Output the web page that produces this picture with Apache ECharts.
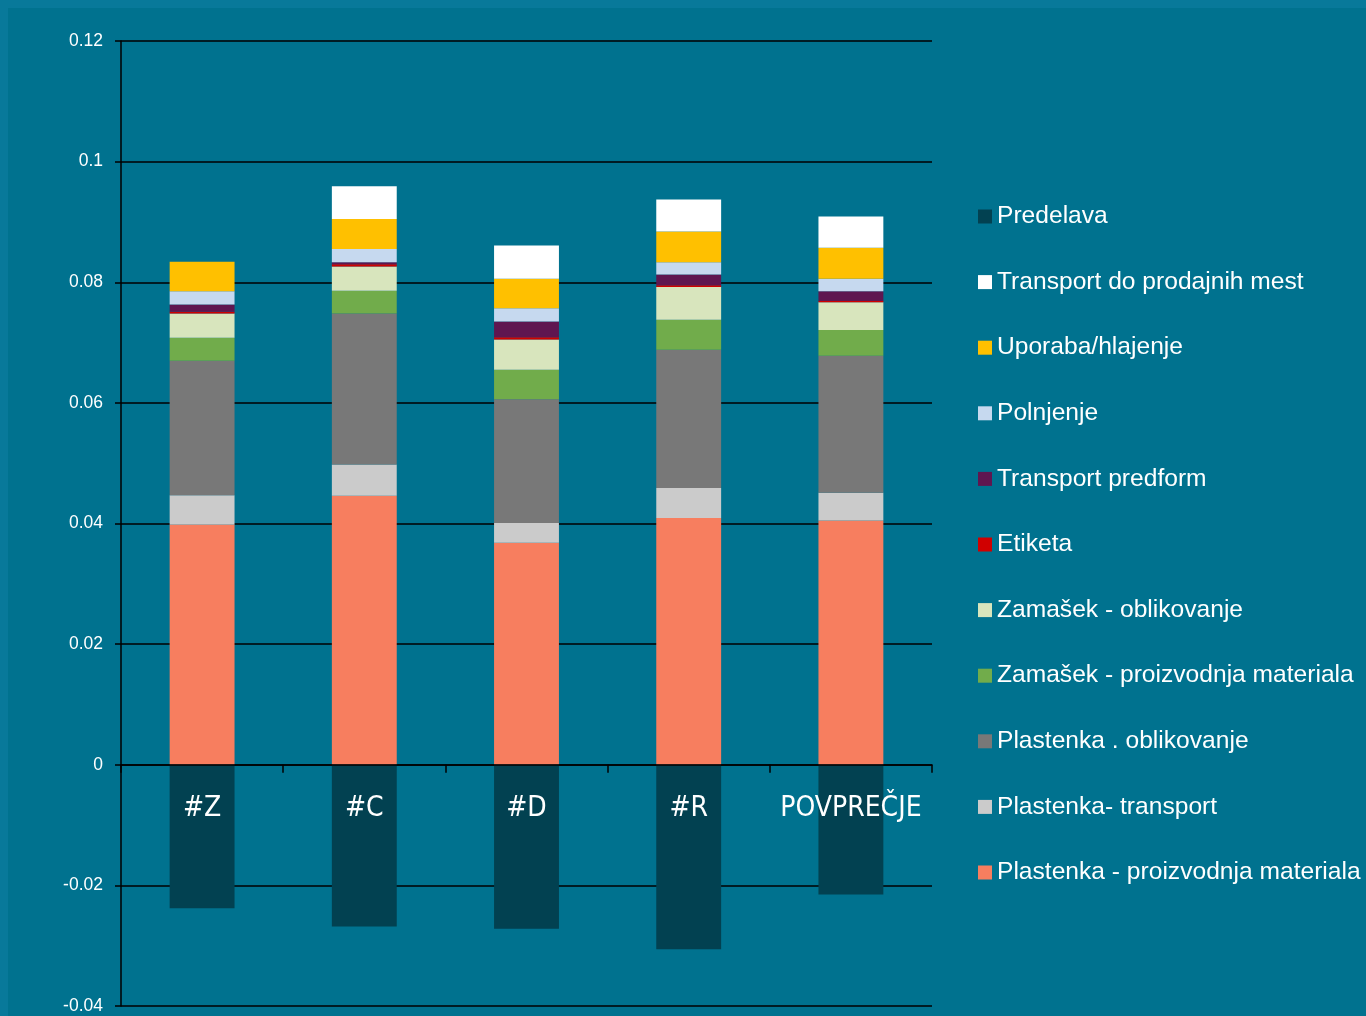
<!DOCTYPE html>
<html>
<head>
<meta charset="utf-8">
<script src="https://cdn.jsdelivr.net/npm/echarts@6/dist/echarts.min.js"></script>
<style>
html,body{margin:0;padding:0;background:#00728f;}
#chart{width:1366px;height:1016px;}
</style>
</head>
<body>
<div id="chart"></div>
<script>
const categories = ['#Z', '#C', '#D', '#R', 'POVPREČJE'];
const yTicks = [-0.04, -0.02, 0, 0.02, 0.04, 0.06, 0.08, 0.1, 0.12];

const plastenkaMaterial = [0.0398, 0.0446, 0.0368, 0.0409, 0.0405];
const plastenkaTransport = [0.0049, 0.0052, 0.0033, 0.0050, 0.0046];
const plastenkaOblikovanje = [0.0223, 0.0250, 0.0205, 0.0229, 0.0227];
const zamasekMaterial = [0.0038, 0.0038, 0.0049, 0.0050, 0.0043];
const zamasekOblikovanje = [0.0040, 0.0040, 0.0050, 0.0054, 0.0046];
const etiketa = [0.0003, 0.0004, 0.0004, 0.0003, 0.0002];
const transportPredform = [0.0012, 0.0003, 0.0026, 0.0018, 0.0016];
const polnjenje = [0.0022, 0.0022, 0.0022, 0.0020, 0.0021];
const uporaba = [0.0049, 0.0050, 0.0049, 0.0051, 0.0051];
const transportProdaja = [0, 0.0054, 0.0055, 0.0053, 0.0052];
const predelava = [-0.0238, -0.0268, -0.0272, -0.0306, -0.0215];

const seriesDefs = [
  ['Plastenka - proizvodnja materiala', plastenkaMaterial, '#f77e5f'],
  ['Plastenka- transport', plastenkaTransport, '#cbcbcb'],
  ['Plastenka . oblikovanje', plastenkaOblikovanje, '#787878'],
  ['Zamašek - proizvodnja materiala', zamasekMaterial, '#71ac4b'],
  ['Zamašek - oblikovanje', zamasekOblikovanje, '#d8e5bd'],
  ['Etiketa', etiketa, '#d00000'],
  ['Transport predform', transportPredform, '#5f1650'],
  ['Polnjenje', polnjenje, '#c6d9ef'],
  ['Uporaba/hlajenje', uporaba, '#ffc000'],
  ['Transport do prodajnih mest', transportProdaja, '#ffffff'],
  ['Predelava', predelava, '#024151']
];

const legendOrder = seriesDefs.map(d => d[0]).reverse();

const chart = echarts.init(document.getElementById('chart'), null, {renderer: 'canvas'});
chart.setOption({
  backgroundColor: '#00728f',
  animation: false,
  graphic: [
    {type: 'rect', shape: {x: 0, y: 0, width: 8, height: 1016}, style: {fill: '#08799a'}, z: -10},
    {type: 'rect', shape: {x: 0, y: 0, width: 1366, height: 8}, style: {fill: '#08799a'}, z: -10}
  ],
  grid: {left: 121, right: 434, top: 41, bottom: 10, containLabel: false, outerBoundsMode: 'none'},
  legend: {
    data: legendOrder,
    orient: 'vertical',
    left: 978,
    top: 204,
    padding: 0,
    icon: 'rect',
    itemWidth: 14,
    itemHeight: 14,
    itemGap: 40.6,
    itemTextGap: 7,
    itemStyle: {borderWidth: 0},
    textStyle: {color: '#ffffff', fontSize: 24.6, lineHeight: 24, fontFamily: 'Liberation Sans, Arial, sans-serif'},
    selectedMode: false
  },
  xAxis: [
    {
      type: 'category',
      data: categories,
      z: 10,
      axisLine: {onZero: true, lineStyle: {color: '#000000', width: 1.5}},
      axisTick: {show: true, length: 8, lineStyle: {color: '#000000', width: 1.5}},
      axisLabel: {show: false},
      splitLine: {show: false}
    },
    {
      type: 'category',
      data: categories,
      position: 'bottom',
      offset: -241,
      z: 10,
      axisLine: {show: false, onZero: false},
      axisTick: {show: false},
      axisLabel: {color: '#ffffff', fontSize: 28, margin: 30, fontFamily: 'DejaVu Sans Condensed, DejaVu Sans, sans-serif', interval: 0},
      splitLine: {show: false}
    }
  ],
  yAxis: {
    type: 'value',
    min: -0.04,
    max: 0.12,
    interval: 0.02,
    axisLine: {show: true, lineStyle: {color: '#000000', width: 1.5}},
    axisTick: {show: true, length: 6, lineStyle: {color: '#000000', width: 1.5}},
    axisLabel: {
      color: '#ffffff', fontSize: 17.5, margin: 18, fontFamily: 'Liberation Sans, Arial, sans-serif',
      formatter: v => {
        const t = yTicks.find(x => Math.abs(x - v) < 1e-9);
        return String(t !== undefined ? t : v);
      }
    },
    splitLine: {show: true, lineStyle: {color: '#000000', width: 1.5}}
  },
  series: seriesDefs.map(d => ({
    name: d[0],
    type: 'bar',
    stack: 'total',
    barWidth: '40%',
    xAxisIndex: 0,
    data: d[1],
    itemStyle: {color: d[2]},
    emphasis: {disabled: true}
  }))
});
</script>
</body>
</html>
